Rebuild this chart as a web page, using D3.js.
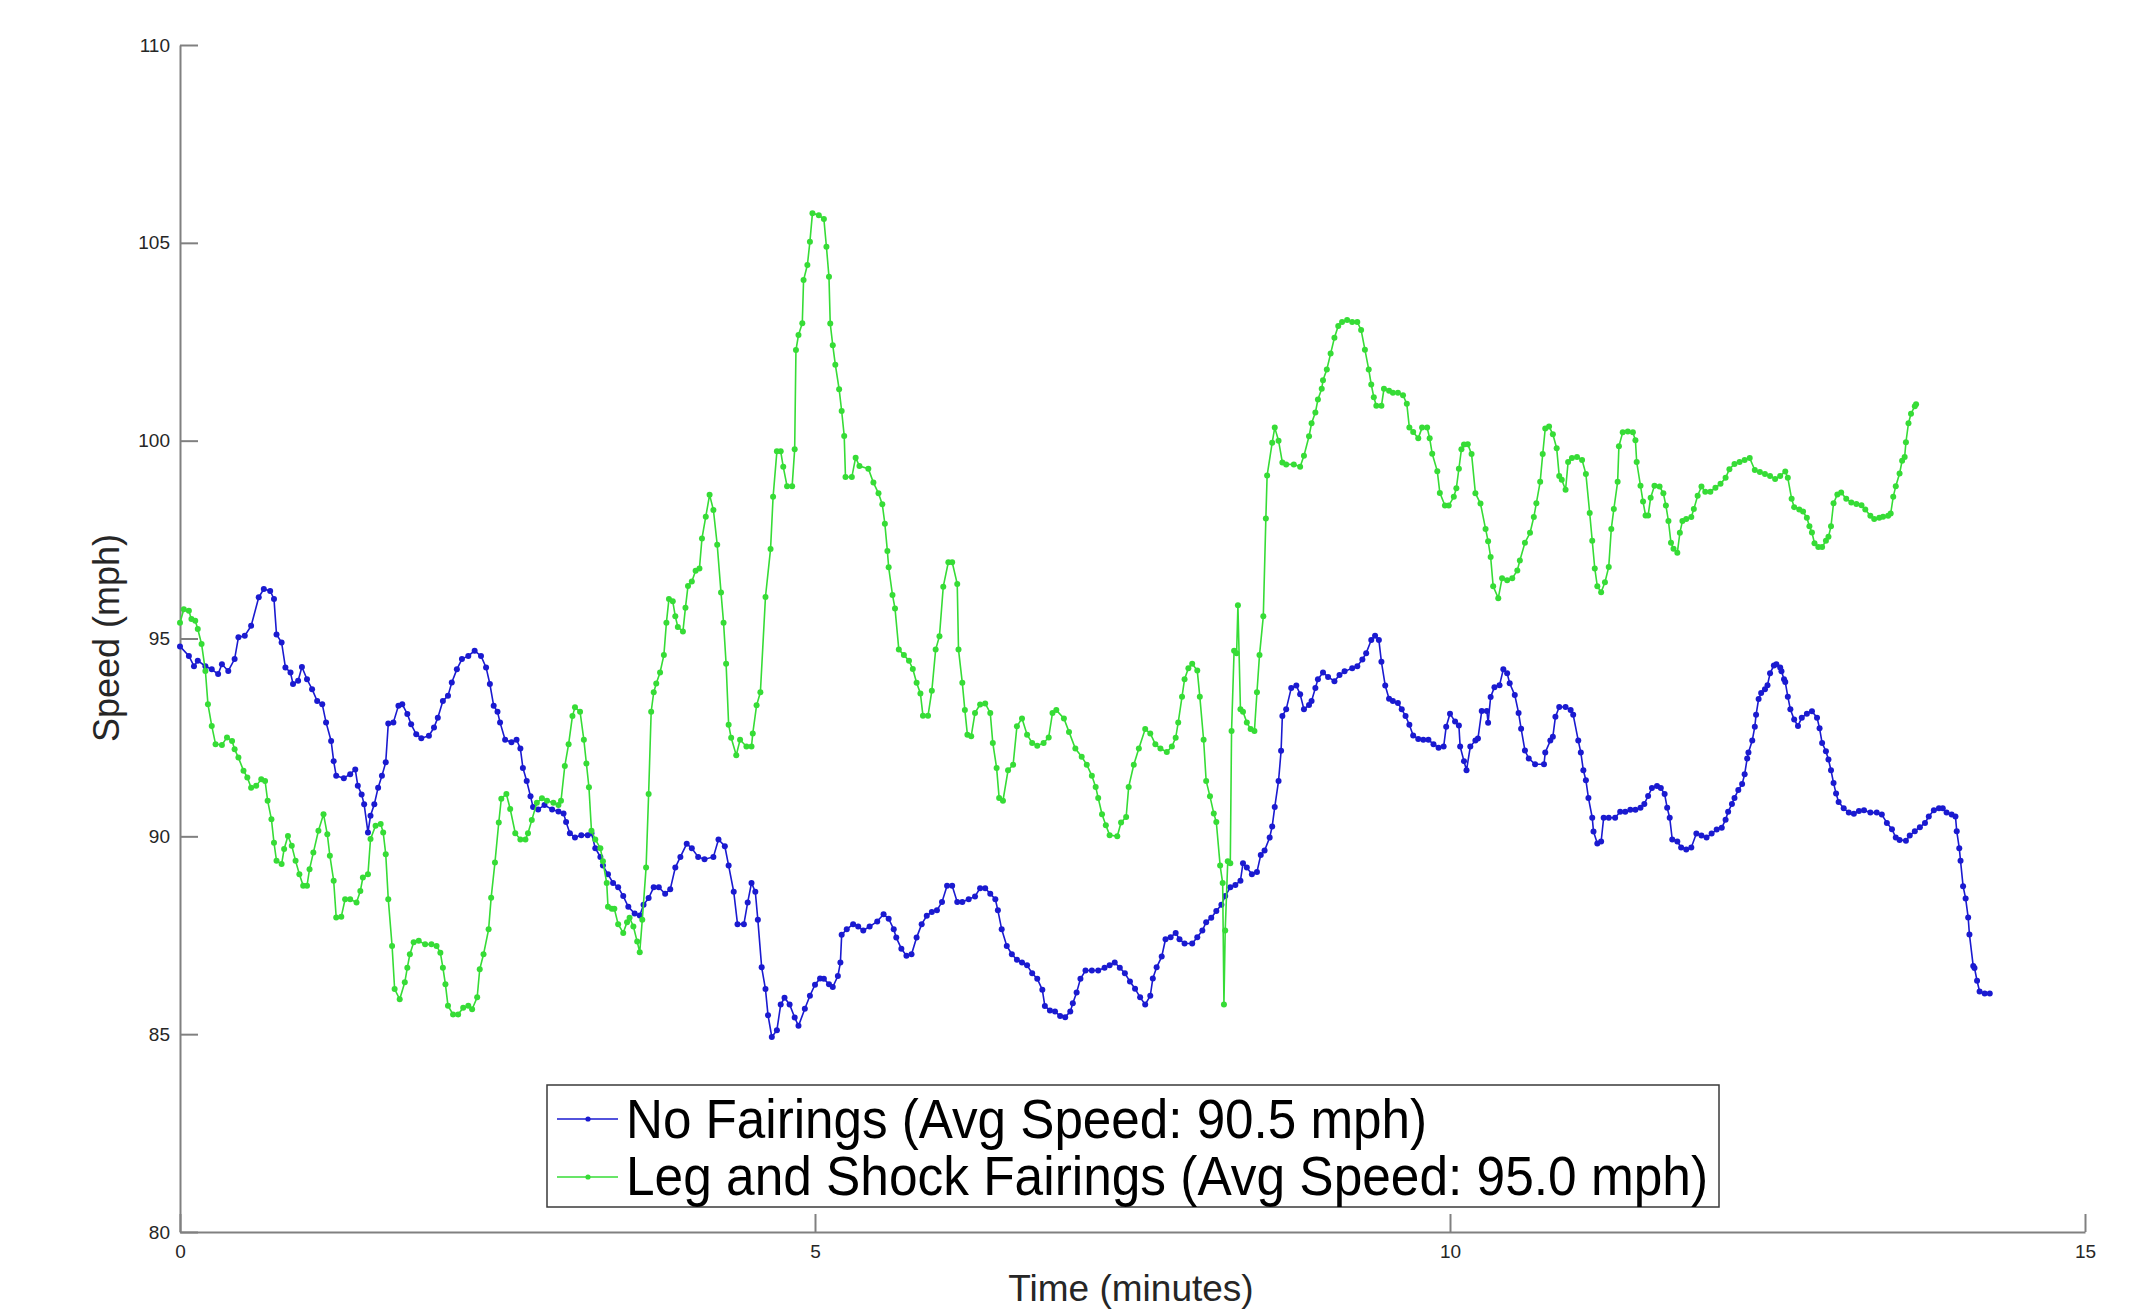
<!DOCTYPE html>
<html>
<head>
<meta charset="utf-8">
<script src="https://cdn.jsdelivr.net/npm/d3@7"></script>
<style>
  body { margin: 0; background: #fff; }
  text { font-family: "Liberation Sans", Arial, Helvetica, sans-serif; }
</style>
</head>
<body>
<script>
// No Fairings run (blue)
var noFairTime = [0.00,0.07,0.11,0.14,0.20,0.25,0.30,0.33,0.38,0.43,0.46,0.51,0.56,0.62,0.66,0.71,0.74,0.76,0.80,0.83,0.87,0.89,0.93,0.96,1.00,1.04,1.08,1.12,1.15,1.19,1.21,1.23,1.29,1.34,1.38,1.40,1.43,1.45,1.48,1.50,1.53,1.56,1.59,1.62,1.64,1.68,1.72,1.75,1.79,1.82,1.86,1.90,1.96,2.00,2.03,2.07,2.11,2.14,2.18,2.22,2.27,2.32,2.37,2.41,2.44,2.47,2.50,2.52,2.56,2.61,2.65,2.68,2.70,2.73,2.76,2.78,2.82,2.87,2.93,2.98,3.02,3.04,3.07,3.11,3.16,3.21,3.24,3.27,3.31,3.33,3.37,3.41,3.45,3.49,3.53,3.58,3.62,3.65,3.69,3.73,3.77,3.82,3.86,3.90,3.94,3.99,4.03,4.08,4.13,4.20,4.24,4.29,4.32,4.36,4.39,4.44,4.47,4.50,4.53,4.55,4.58,4.61,4.63,4.66,4.70,4.73,4.76,4.80,4.84,4.87,4.92,4.96,5.00,5.04,5.07,5.11,5.14,5.18,5.20,5.21,5.25,5.30,5.34,5.38,5.43,5.49,5.54,5.58,5.62,5.64,5.68,5.72,5.76,5.80,5.84,5.88,5.92,5.96,6.00,6.04,6.08,6.12,6.16,6.21,6.26,6.30,6.34,6.38,6.42,6.44,6.47,6.51,6.55,6.59,6.63,6.67,6.71,6.75,6.79,6.81,6.85,6.89,6.93,6.97,7.01,7.03,7.06,7.09,7.13,7.18,7.23,7.28,7.32,7.36,7.40,7.44,7.48,7.52,7.56,7.60,7.64,7.66,7.69,7.73,7.76,7.80,7.84,7.87,7.91,7.97,8.01,8.05,8.08,8.12,8.16,8.20,8.23,8.27,8.31,8.35,8.37,8.40,8.44,8.48,8.51,8.54,8.58,8.60,8.62,8.65,8.67,8.68,8.71,8.75,8.79,8.82,8.85,8.89,8.91,8.94,8.96,9.00,9.04,9.09,9.13,9.17,9.23,9.27,9.31,9.34,9.38,9.41,9.44,9.46,9.49,9.52,9.55,9.59,9.62,9.65,9.68,9.71,9.75,9.79,9.83,9.87,9.91,9.95,9.97,10.00,10.04,10.07,10.08,10.11,10.13,10.16,10.20,10.22,10.25,10.29,10.30,10.32,10.35,10.39,10.42,10.45,10.47,10.51,10.54,10.56,10.59,10.62,10.67,10.74,10.75,10.79,10.81,10.83,10.86,10.91,10.95,10.97,11.01,11.03,11.05,11.07,11.09,11.12,11.13,11.16,11.19,11.21,11.25,11.30,11.34,11.38,11.42,11.46,11.50,11.53,11.56,11.59,11.63,11.66,11.69,11.71,11.73,11.75,11.79,11.82,11.86,11.90,11.94,11.98,12.02,12.06,12.10,12.14,12.17,12.19,12.22,12.24,12.27,12.30,12.32,12.34,12.35,12.38,12.40,12.41,12.43,12.45,12.48,12.50,12.52,12.55,12.57,12.60,12.61,12.63,12.64,12.66,12.68,12.71,12.74,12.77,12.81,12.85,12.89,12.91,12.93,12.96,12.98,13.00,13.02,13.04,13.06,13.10,13.14,13.18,13.22,13.26,13.31,13.36,13.40,13.44,13.48,13.51,13.54,13.59,13.62,13.66,13.70,13.74,13.77,13.81,13.85,13.88,13.91,13.95,13.98,13.99,14.01,14.02,14.04,14.06,14.08,14.09,14.12,14.13,14.15,14.17,14.21,14.25];
var noFairSpeed = [94.80,94.56,94.30,94.44,94.30,94.22,94.10,94.35,94.18,94.48,95.03,95.07,95.32,96.04,96.25,96.20,96.00,95.10,94.90,94.27,94.14,93.85,93.93,94.28,93.97,93.72,93.42,93.34,92.88,92.41,91.90,91.53,91.47,91.57,91.69,91.28,91.06,90.81,90.10,90.52,90.81,91.23,91.53,91.87,92.85,92.88,93.30,93.34,93.09,92.83,92.58,92.48,92.54,92.75,93.00,93.42,93.55,93.89,94.22,94.48,94.56,94.69,94.56,94.27,93.85,93.30,93.15,92.88,92.44,92.38,92.44,92.22,91.73,91.40,91.01,90.74,90.68,90.79,90.68,90.63,90.58,90.36,90.08,89.97,90.03,90.03,90.08,89.70,89.48,89.26,89.04,88.82,88.71,88.49,88.22,88.05,88.00,88.27,88.44,88.71,88.71,88.55,88.66,89.21,89.48,89.81,89.70,89.48,89.42,89.48,89.92,89.75,89.26,88.60,87.78,87.78,88.33,88.82,88.60,87.89,86.69,86.14,85.48,84.93,85.10,85.75,85.92,85.75,85.42,85.21,85.64,85.97,86.25,86.41,86.40,86.26,86.19,86.47,86.81,87.51,87.65,87.78,87.72,87.62,87.72,87.85,88.03,87.92,87.65,87.44,87.16,86.98,87.02,87.44,87.78,87.99,88.09,88.13,88.34,88.75,88.75,88.34,88.34,88.41,88.48,88.69,88.69,88.55,88.41,88.13,87.65,87.23,87.02,86.88,86.81,86.74,86.54,86.40,86.12,85.71,85.60,85.57,85.46,85.43,85.57,85.78,86.05,86.40,86.61,86.61,86.61,86.68,86.74,86.81,86.68,86.54,86.33,86.15,85.93,85.75,85.97,86.41,86.69,86.96,87.40,87.45,87.56,87.40,87.29,87.29,87.45,87.62,87.83,87.94,88.11,88.27,88.49,88.71,88.77,88.88,89.32,89.21,89.04,89.10,89.53,89.64,89.97,90.25,90.74,91.40,92.16,93.04,93.21,93.75,93.81,93.59,93.21,93.32,93.42,93.75,93.97,94.14,94.03,93.92,94.08,94.17,94.25,94.30,94.47,94.63,94.96,95.07,94.96,94.41,93.81,93.48,93.42,93.37,93.21,93.04,92.82,92.55,92.46,92.44,92.44,92.33,92.24,92.27,92.77,93.10,92.90,92.80,92.27,91.90,91.67,92.27,92.42,92.47,93.17,93.17,92.87,93.52,93.77,93.82,94.22,94.12,93.87,93.57,93.12,92.72,92.17,91.97,91.82,91.82,92.12,92.42,92.52,93.02,93.27,93.27,93.19,93.07,92.42,92.12,91.67,91.42,90.97,90.47,90.12,89.82,89.87,90.47,90.47,90.47,90.62,90.62,90.67,90.67,90.72,90.82,91.02,91.22,91.27,91.22,91.07,90.72,90.47,89.92,89.87,89.72,89.67,89.72,90.07,90.02,89.97,90.07,90.17,90.22,90.42,90.62,90.82,90.97,91.17,91.32,91.57,91.97,92.12,92.42,92.77,93.07,93.47,93.62,93.72,93.82,94.12,94.32,94.35,94.27,94.17,93.97,93.90,93.53,93.21,92.95,92.79,93.00,93.10,93.16,93.00,92.73,92.36,92.15,91.94,91.67,91.35,91.08,90.87,90.71,90.60,90.57,90.64,90.66,90.60,90.60,90.55,90.34,90.18,89.97,89.91,89.89,90.02,90.13,90.23,90.34,90.50,90.66,90.71,90.71,90.60,90.55,90.50,90.13,89.70,89.38,88.74,88.43,87.95,87.52,86.72,86.67,86.35,86.08,86.03,86.03];

// Leg and Shock Fairings run (green)
var fairTime = [0.00,0.03,0.07,0.09,0.12,0.14,0.17,0.20,0.22,0.25,0.28,0.33,0.37,0.41,0.43,0.46,0.50,0.53,0.56,0.60,0.64,0.67,0.69,0.72,0.74,0.76,0.80,0.82,0.85,0.88,0.91,0.94,0.97,1.00,1.02,1.05,1.09,1.13,1.16,1.18,1.21,1.23,1.27,1.30,1.34,1.39,1.42,1.44,1.48,1.50,1.54,1.58,1.60,1.62,1.64,1.67,1.69,1.73,1.77,1.79,1.81,1.84,1.88,1.93,1.98,2.02,2.05,2.07,2.09,2.11,2.15,2.19,2.23,2.27,2.30,2.34,2.36,2.39,2.43,2.45,2.48,2.51,2.53,2.57,2.60,2.64,2.68,2.72,2.74,2.77,2.81,2.85,2.89,2.94,2.98,3.00,3.03,3.06,3.09,3.11,3.15,3.18,3.20,3.22,3.24,3.27,3.31,3.33,3.36,3.37,3.40,3.42,3.45,3.49,3.52,3.54,3.57,3.60,3.62,3.64,3.67,3.69,3.71,3.73,3.75,3.78,3.81,3.83,3.85,3.88,3.90,3.92,3.96,3.98,4.00,4.03,4.06,4.09,4.11,4.14,4.17,4.20,4.23,4.26,4.28,4.30,4.32,4.34,4.38,4.41,4.46,4.50,4.51,4.54,4.57,4.61,4.65,4.67,4.70,4.73,4.75,4.78,4.82,4.84,4.85,4.87,4.90,4.91,4.94,4.96,4.98,5.03,5.07,5.09,5.11,5.12,5.14,5.16,5.19,5.21,5.23,5.24,5.29,5.32,5.35,5.42,5.46,5.50,5.53,5.55,5.57,5.58,5.61,5.63,5.66,5.70,5.74,5.77,5.80,5.83,5.85,5.89,5.92,5.95,5.98,6.01,6.05,6.08,6.12,6.13,6.16,6.18,6.20,6.23,6.26,6.30,6.34,6.38,6.40,6.43,6.45,6.48,6.52,6.56,6.59,6.63,6.67,6.71,6.75,6.80,6.84,6.87,6.90,6.96,7.00,7.05,7.10,7.14,7.18,7.21,7.23,7.26,7.29,7.32,7.38,7.41,7.45,7.47,7.51,7.55,7.60,7.64,7.68,7.72,7.77,7.81,7.84,7.86,7.89,7.91,7.94,7.97,8.01,8.03,8.06,8.08,8.11,8.14,8.16,8.19,8.21,8.22,8.23,8.25,8.27,8.28,8.30,8.32,8.33,8.35,8.37,8.40,8.43,8.46,8.48,8.50,8.53,8.55,8.56,8.60,8.62,8.65,8.68,8.71,8.77,8.82,8.85,8.89,8.91,8.94,8.96,8.99,9.00,9.03,9.06,9.09,9.12,9.15,9.19,9.23,9.27,9.30,9.33,9.36,9.38,9.40,9.42,9.46,9.48,9.52,9.55,9.59,9.63,9.66,9.68,9.71,9.75,9.78,9.82,9.84,9.86,9.90,9.92,9.96,9.99,10.03,10.05,10.07,10.09,10.11,10.14,10.17,10.20,10.24,10.28,10.30,10.32,10.34,10.38,10.41,10.45,10.49,10.53,10.55,10.59,10.63,10.66,10.68,10.71,10.73,10.75,10.78,10.81,10.84,10.86,10.88,10.91,10.93,10.96,11.00,11.04,11.07,11.10,11.12,11.14,11.16,11.19,11.22,11.25,11.27,11.29,11.32,11.33,11.36,11.40,11.44,11.46,11.47,11.50,11.52,11.54,11.56,11.58,11.61,11.65,11.68,11.70,11.72,11.74,11.76,11.79,11.81,11.83,11.86,11.90,11.92,11.95,11.98,12.01,12.05,12.09,12.13,12.17,12.20,12.24,12.28,12.32,12.36,12.40,12.44,12.48,12.52,12.56,12.60,12.64,12.66,12.69,12.71,12.75,12.78,12.81,12.83,12.85,12.87,12.90,12.93,12.96,12.98,13.00,13.02,13.05,13.08,13.12,13.16,13.20,13.24,13.27,13.31,13.34,13.38,13.41,13.45,13.47,13.49,13.51,13.54,13.56,13.58,13.59,13.61,13.63,13.66,13.67];
var fairSpeed = [95.40,95.74,95.70,95.49,95.45,95.24,94.86,94.18,93.34,92.79,92.33,92.31,92.50,92.41,92.20,91.99,91.66,91.49,91.23,91.28,91.44,91.40,90.90,90.43,89.84,89.38,89.30,89.68,90.01,89.76,89.38,89.04,88.75,88.75,89.17,89.59,90.14,90.56,90.05,89.51,88.88,87.95,87.97,88.41,88.41,88.33,88.62,88.96,89.04,89.93,90.27,90.31,90.10,89.55,88.41,87.23,86.14,85.88,86.31,86.68,87.02,87.32,87.36,87.27,87.27,87.23,87.06,86.68,86.26,85.72,85.50,85.50,85.67,85.72,85.63,85.93,86.64,87.02,87.65,88.45,89.34,90.35,90.95,91.07,90.69,90.08,89.92,89.92,90.08,90.41,90.85,90.96,90.90,90.85,90.79,90.90,91.78,92.33,93.04,93.26,93.15,92.44,91.84,91.24,90.14,89.92,89.70,89.37,88.82,88.22,88.17,88.17,87.78,87.56,87.83,87.94,87.72,87.34,87.07,87.89,89.21,91.07,93.15,93.64,93.86,94.14,94.58,95.40,96.00,95.94,95.56,95.29,95.18,95.78,96.33,96.44,96.71,96.77,97.53,98.08,98.63,98.25,97.37,96.16,95.40,94.36,92.82,92.49,92.05,92.44,92.27,92.27,92.60,93.31,93.64,96.05,97.26,98.58,99.73,99.73,99.34,98.85,98.85,99.78,102.29,102.67,102.97,104.06,104.44,105.03,105.75,105.70,105.60,104.90,104.14,102.96,102.41,101.92,101.30,100.75,100.12,99.08,99.08,99.57,99.36,99.29,98.94,98.67,98.39,97.90,97.21,96.80,96.10,95.76,94.72,94.58,94.44,94.23,93.88,93.61,93.05,93.05,93.68,94.72,95.06,96.31,96.93,96.93,96.38,94.72,93.88,93.19,92.57,92.53,93.12,93.33,93.36,93.12,92.36,91.73,90.97,90.90,91.67,91.81,92.78,92.98,92.57,92.36,92.29,92.36,92.50,93.12,93.19,92.98,92.64,92.22,92.01,91.81,91.53,91.25,90.97,90.56,90.28,90.03,90.00,90.35,90.49,91.25,91.81,92.22,92.71,92.60,92.33,92.22,92.13,92.27,92.49,92.88,93.53,93.97,94.25,94.36,94.19,93.53,92.44,91.40,91.01,90.58,90.36,89.26,88.82,85.75,87.62,89.37,89.32,92.66,94.69,94.63,95.84,93.21,93.15,92.88,92.71,92.66,93.64,94.58,95.56,98.03,99.12,99.95,100.33,100.00,99.45,99.40,99.40,99.34,99.62,100.11,100.44,100.71,101.04,101.31,101.53,101.80,102.20,102.60,102.90,103.00,103.05,103.00,103.00,102.80,102.30,101.80,101.42,101.10,100.88,100.88,101.31,101.26,101.21,101.21,101.15,100.93,100.33,100.22,100.06,100.33,100.33,100.06,99.67,99.23,98.68,98.36,98.36,98.58,98.80,99.29,99.78,99.90,99.91,99.66,98.67,98.41,97.77,97.46,97.06,96.32,96.02,96.52,96.47,96.52,96.72,96.97,97.42,97.67,98.07,98.42,98.96,99.66,100.31,100.36,100.16,99.81,99.11,99.01,98.76,99.46,99.56,99.59,99.51,99.16,98.17,97.47,96.77,96.32,96.17,96.42,96.81,97.77,98.27,98.96,99.86,100.21,100.23,100.21,100.01,99.46,98.86,98.46,98.11,98.11,98.56,98.86,98.84,98.67,98.36,97.97,97.42,97.27,97.17,97.67,97.97,98.02,98.07,98.27,98.61,98.84,98.71,98.71,98.81,98.91,99.06,99.28,99.41,99.46,99.51,99.56,99.26,99.21,99.16,99.11,99.03,99.11,99.22,99.06,98.53,98.32,98.26,98.21,98.05,97.84,97.68,97.41,97.31,97.31,97.47,97.57,97.84,98.42,98.64,98.69,98.53,98.44,98.40,98.37,98.26,98.10,98.02,98.05,98.08,98.10,98.16,98.58,98.85,99.17,99.49,99.59,99.96,100.44,100.68,100.87,100.92];

var xTicks = [0, 5, 10, 15];
var yTicks = [80, 85, 90, 95, 100, 105, 110];
var seriesNames = ["No Fairings (Avg Speed: 90.5 mph)", "Leg and Shock Fairings (Avg Speed: 95.0 mph)"];
var seriesColors = ["#1a1ad0", "#36dc36"];

var svg = d3.select("body").append("svg")
    .attr("width", 2129)
    .attr("height", 1313)
    .style("background", "#fff");

var x = d3.scaleLinear().domain([0, 15]).range([180, 2085]);
var y = d3.scaleLinear().domain([80, 110]).range([1232, 45]);

// axes, ticks point into the plot like matlab
var yAxis = svg.append("g")
    .attr("transform", "translate(180,0)")
    .call(d3.axisLeft(y).tickValues(yTicks).tickSizeInner(-18).tickSizeOuter(0).tickPadding(10));

var xAxis = svg.append("g")
    .attr("transform", "translate(0,1232)")
    .call(d3.axisBottom(x).tickValues(xTicks).tickSizeInner(-18).tickSizeOuter(0).tickPadding(13));

svg.selectAll(".domain, .tick line")
    .attr("stroke", "#808080")
    .attr("stroke-width", 2);
svg.selectAll(".tick text")
    .attr("fill", "#262626")
    .style("font-size", "19px")
    .style("font-family", "'Liberation Sans', Arial, sans-serif");

var series = [
    d3.zip(noFairTime, noFairSpeed),
    d3.zip(fairTime, fairSpeed)
];

var line = d3.line()
    .x(function(d) { return x(d[0]); })
    .y(function(d) { return y(d[1]); });

series.forEach(function(pts, i) {
    var g = svg.append("g");
    g.append("path")
        .datum(pts)
        .attr("d", line)
        .attr("fill", "none")
        .attr("stroke", seriesColors[i])
        .attr("stroke-width", 1.6);
    g.selectAll("circle")
        .data(pts)
        .enter().append("circle")
        .attr("cx", function(d) { return x(d[0]); })
        .attr("cy", function(d) { return y(d[1]); })
        .attr("r", 3)
        .attr("fill", seriesColors[i]);
});

// axis titles
svg.append("text")
    .attr("x", 1131)
    .attr("y", 1301)
    .attr("text-anchor", "middle")
    .style("font-size", "37px")
    .attr("fill", "#262626")
    .text("Time (minutes)");

svg.append("text")
    .attr("transform", "translate(119,638) rotate(-90)")
    .attr("text-anchor", "middle")
    .style("font-size", "36px")
    .attr("fill", "#262626")
    .text("Speed (mph)");

// legend
var legend = svg.append("g");
legend.append("rect")
    .attr("x", 547)
    .attr("y", 1085)
    .attr("width", 1172)
    .attr("height", 122)
    .attr("fill", "#fff")
    .attr("stroke", "#3a3a3a")
    .attr("stroke-width", 1.5);

var legendRows = [
    { y: 1138, mid: 1119, len: 801 },
    { y: 1195, mid: 1177, len: 1082 }
];

legendRows.forEach(function(r, i) {
    legend.append("line")
        .attr("x1", 557).attr("x2", 618)
        .attr("y1", r.mid).attr("y2", r.mid)
        .attr("stroke", seriesColors[i])
        .attr("stroke-width", 1.4);
    legend.append("circle")
        .attr("cx", 588).attr("cy", r.mid)
        .attr("r", 2.6)
        .attr("fill", seriesColors[i]);
    legend.append("text")
        .attr("x", 626)
        .attr("y", r.y)
        .attr("textLength", r.len)
        .attr("lengthAdjust", "spacingAndGlyphs")
        .style("font-size", "56px")
        .attr("fill", "#000")
        .text(seriesNames[i]);
});
</script>
</body>
</html>
